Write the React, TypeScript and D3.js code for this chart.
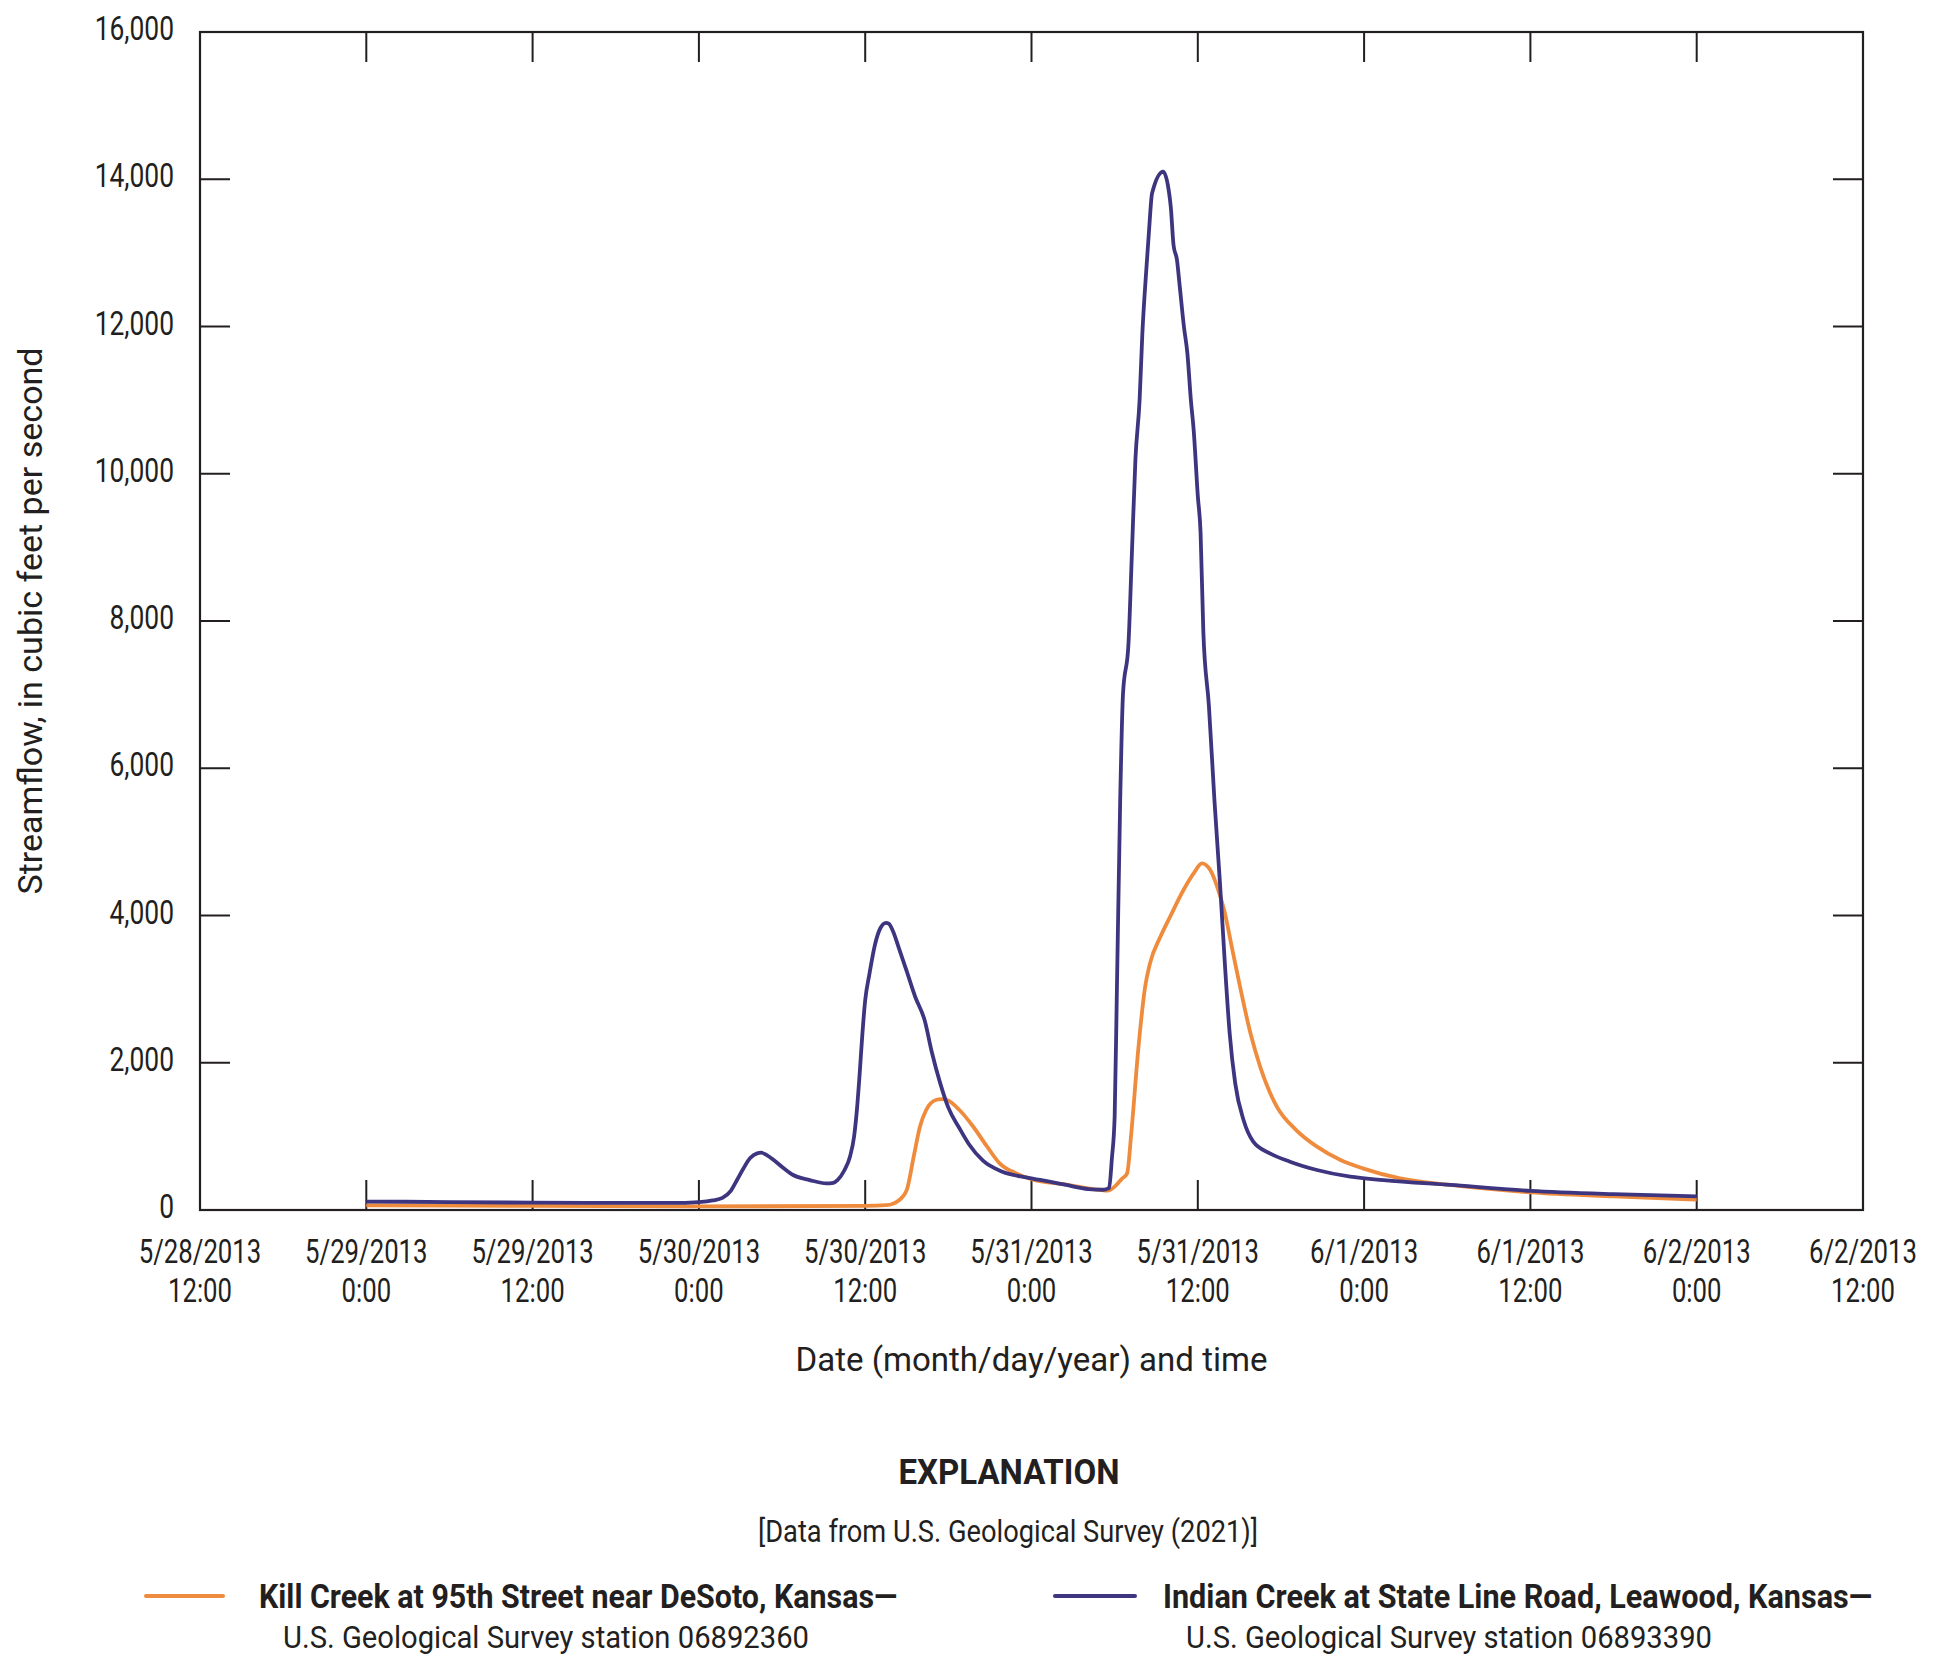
import React, { useLayoutEffect, useRef, useState } from "react";
import * as d3 from "d3";

const parseTime = d3.timeParse("%m/%d/%Y %H:%M");

// Indian Creek at State Line Road, Leawood, Kansas (06893390)
const indianTimes = [
  "5/29/2013 0:00", "5/29/2013 6:00", "5/29/2013 12:00", "5/29/2013 18:00", "5/29/2013 22:00",
  "5/30/2013 0:00", "5/30/2013 1:00", "5/30/2013 1:42", "5/30/2013 2:18", "5/30/2013 2:45",
  "5/30/2013 3:12", "5/30/2013 3:42", "5/30/2013 4:12", "5/30/2013 4:30", "5/30/2013 4:54",
  "5/30/2013 5:24", "5/30/2013 6:06", "5/30/2013 6:48", "5/30/2013 8:00", "5/30/2013 9:12",
  "5/30/2013 9:42", "5/30/2013 10:00", "5/30/2013 10:30", "5/30/2013 10:54", "5/30/2013 11:12",
  "5/30/2013 11:24", "5/30/2013 11:36", "5/30/2013 11:48", "5/30/2013 12:00", "5/30/2013 12:18",
  "5/30/2013 12:42", "5/30/2013 13:06", "5/30/2013 13:30", "5/30/2013 13:42", "5/30/2013 14:00",
  "5/30/2013 14:24", "5/30/2013 15:00", "5/30/2013 15:36", "5/30/2013 16:18", "5/30/2013 16:48",
  "5/30/2013 17:24", "5/30/2013 18:00", "5/30/2013 18:48", "5/30/2013 19:30", "5/30/2013 20:30",
  "5/30/2013 21:54", "5/30/2013 23:42", "5/31/2013 1:18", "5/31/2013 2:30", "5/31/2013 4:06",
  "5/31/2013 5:12", "5/31/2013 5:36", "5/31/2013 5:48", "5/31/2013 6:00", "5/31/2013 6:09",
  "5/31/2013 6:24", "5/31/2013 6:36", "5/31/2013 7:00", "5/31/2013 7:15", "5/31/2013 7:30",
  "5/31/2013 7:48", "5/31/2013 8:00", "5/31/2013 8:18", "5/31/2013 8:30", "5/31/2013 8:42",
  "5/31/2013 9:30", "5/31/2013 9:54", "5/31/2013 10:03", "5/31/2013 10:15", "5/31/2013 10:30",
  "5/31/2013 10:42", "5/31/2013 11:00", "5/31/2013 11:15", "5/31/2013 11:30", "5/31/2013 11:42",
  "5/31/2013 12:00", "5/31/2013 12:12", "5/31/2013 12:24", "5/31/2013 12:48", "5/31/2013 13:12",
  "5/31/2013 13:36", "5/31/2013 13:58", "5/31/2013 14:18", "5/31/2013 14:42", "5/31/2013 15:18",
  "5/31/2013 16:00", "5/31/2013 17:12", "5/31/2013 18:39", "5/31/2013 20:36", "5/31/2013 23:00",
  "6/1/2013 1:24", "6/1/2013 6:12", "6/1/2013 12:00", "6/1/2013 18:00", "6/2/2013 0:00",
];
const indianFlow = [
  115, 108, 100, 96, 96,
  108, 130, 165, 260, 407,
  560, 706, 770, 778, 745,
  679, 570, 475, 407, 362,
  370, 407, 540, 724, 1000,
  1358, 1850, 2400, 2850, 3200,
  3600, 3830, 3900, 3890, 3790,
  3575, 3240, 2900, 2570, 2150,
  1730, 1390, 1110, 890, 670,
  520, 440, 385, 340, 285,
  275, 300, 700, 1267, 2852,
  5568, 7000, 7700, 8950, 10200,
  11000, 11908, 12813, 13356, 13809,
  14102, 13852, 13625, 13105, 12901,
  12539, 11995, 11633, 11000, 10600,
  9700, 9200, 7850, 6850, 5568,
  4440, 3304, 2400, 1720, 1222,
  928, 770, 656, 543, 452,
  407, 340, 260, 215, 185,
];

// Kill Creek at 95th Street near DeSoto, Kansas (06892360)
const killTimes = [
  "5/29/2013 0:00", "5/29/2013 12:00", "5/30/2013 0:00", "5/30/2013 12:00", "5/30/2013 13:30",
  "5/30/2013 14:00", "5/30/2013 14:18", "5/30/2013 14:42", "5/30/2013 15:00", "5/30/2013 15:30",
  "5/30/2013 15:57", "5/30/2013 16:24", "5/30/2013 17:06", "5/30/2013 17:30", "5/30/2013 17:54",
  "5/30/2013 18:48", "5/30/2013 19:48", "5/30/2013 20:48", "5/30/2013 21:42", "5/30/2013 22:54",
  "5/31/2013 0:00", "5/31/2013 2:30", "5/31/2013 4:54", "5/31/2013 5:30", "5/31/2013 6:00",
  "5/31/2013 6:30", "5/31/2013 6:54", "5/31/2013 7:12", "5/31/2013 7:42", "5/31/2013 8:12",
  "5/31/2013 8:33", "5/31/2013 9:18", "5/31/2013 10:00", "5/31/2013 10:58", "5/31/2013 11:42",
  "5/31/2013 12:18", "5/31/2013 12:54", "5/31/2013 13:24", "5/31/2013 13:54", "5/31/2013 14:30",
  "5/31/2013 15:06", "5/31/2013 15:48", "5/31/2013 16:30", "5/31/2013 17:42", "5/31/2013 19:06",
  "5/31/2013 20:36", "5/31/2013 22:18", "5/31/2013 23:54", "6/1/2013 2:36", "6/1/2013 6:12",
  "6/1/2013 12:00", "6/1/2013 18:00", "6/2/2013 0:00",
];
const killFlow = [
  62, 55, 48, 55, 65,
  85, 113, 180, 272, 724,
  1131, 1358, 1494, 1505, 1494,
  1358, 1131, 860, 634, 498,
  420, 345, 275, 262, 317,
  420, 498, 1041, 2173, 3033,
  3350, 3711, 3983, 4346, 4572,
  4708, 4617, 4390, 4074, 3531,
  2987, 2400, 1946, 1403, 1086,
  860, 679, 566, 430, 340,
  240, 185, 140,
];

const xTickTimes = [
  "5/28/2013 12:00", "5/29/2013 0:00", "5/29/2013 12:00", "5/30/2013 0:00", "5/30/2013 12:00",
  "5/31/2013 0:00", "5/31/2013 12:00", "6/1/2013 0:00", "6/1/2013 12:00", "6/2/2013 0:00",
  "6/2/2013 12:00",
];
const yTicks = [0, 2000, 4000, 6000, 8000, 10000, 12000, 14000, 16000];

const xTitle = "Date (month/day/year) and time";
const yTitle = "Streamflow, in cubic feet per second";
const explTitle = "EXPLANATION";
const explSource = "[Data from U.S. Geological Survey (2021)]";
const killLabel = "Kill Creek at 95th Street near DeSoto, Kansas\u2014";
const killStation = "U.S. Geological Survey station 06892360";
const indianLabel = "Indian Creek at State Line Road, Leawood, Kansas\u2014";
const indianStation = "U.S. Geological Survey station 06893390";

const ORANGE = "#EF8B3C";
const NAVY = "#3D3580";
const INK = "#231F20";
const FONT = "Roboto, 'Liberation Sans', sans-serif";

// Text drawn horizontally compressed by a fixed factor (condensed look).
function CText(props: { x: number; y: number; sx?: number; children: React.ReactNode; [k: string]: any }) {
  const { x, y, sx = 0.8, children, ...rest } = props;
  return (
    <text transform={`translate(${x},${y}) scale(${sx},1)`} {...rest}>
      {children}
    </text>
  );
}

// Text compressed so its drawn width equals `width` (measured after render).
function FitText(props: { x: number; y: number; width: number; rotate?: number; children: string; [k: string]: any }) {
  const { x, y, width, rotate = 0, children, ...rest } = props;
  const ref = useRef<SVGTextElement>(null);
  const [sx, setSx] = useState(0.8);
  useLayoutEffect(() => {
    if (ref.current) {
      const natural = ref.current.getComputedTextLength();
      if (natural > 0) setSx(width / natural);
    }
  }, [width, children]);
  return (
    <text ref={ref} transform={`translate(${x},${y}) rotate(${rotate}) scale(${sx},1)`} {...rest}>
      {children}
    </text>
  );
}

export default function App() {
  const W = 1940, H = 1664;
  const left = 200, right = 1863, top = 32, bottom = 1210;
  const x = d3.scaleTime()
    .domain([parseTime(xTickTimes[0])!, parseTime(xTickTimes[xTickTimes.length - 1])!])
    .range([left, right]);
  const y = d3.scaleLinear().domain([0, 16000]).range([bottom, top]);
  const fmt = d3.format(",");
  const line = d3.line<[Date, number]>()
    .x((d) => x(d[0]))
    .y((d) => y(d[1]))
    .curve(d3.curveMonotoneX);
  const kill: [Date, number][] = killTimes.map((t, i) => [parseTime(t)!, killFlow[i]]);
  const indian: [Date, number][] = indianTimes.map((t, i) => [parseTime(t)!, indianFlow[i]]);
  const tickLen = 30;
  const fDate = d3.timeFormat("%-m/%-d/%Y");
  const fTime = d3.timeFormat("%-H:%M");

  return (
    <svg width={W} height={H} style={{ position: "absolute", left: 0, top: 0, background: "#fff" }}
      fontFamily={FONT} fill={INK}>
      <rect x={0} y={0} width={W} height={H} fill="#fff" />
      {/* ticks */}
      {xTickTimes.slice(1, -1).map((t) => {
        const xx = x(parseTime(t)!);
        return (
          <g key={t} stroke={INK} strokeWidth={2}>
            <line x1={xx} x2={xx} y1={bottom} y2={bottom - tickLen} />
            <line x1={xx} x2={xx} y1={top} y2={top + tickLen} />
          </g>
        );
      })}
      {yTicks.slice(1, -1).map((v) => (
        <g key={v} stroke={INK} strokeWidth={2}>
          <line x1={left} x2={left + tickLen} y1={y(v)} y2={y(v)} />
          <line x1={right} x2={right - tickLen} y1={y(v)} y2={y(v)} />
        </g>
      ))}
      {/* data */}
      <path d={line(kill)!} fill="none" stroke={ORANGE} strokeWidth={3.8} strokeLinejoin="round" />
      <path d={line(indian)!} fill="none" stroke={NAVY} strokeWidth={3.8} strokeLinejoin="round" />
      <rect x={left} y={top} width={right - left} height={bottom - top} fill="none" stroke={INK} strokeWidth={2.2} />
      {/* tick labels */}
      {yTicks.map((v) => (
        <CText key={v} x={174} y={y(v) + 8} textAnchor="end" fontSize={33} sx={0.8}>{fmt(v)}</CText>
      ))}
      {xTickTimes.map((t) => {
        const d = parseTime(t)!;
        const xx = x(d);
        return (
          <g key={t}>
            <CText x={xx} y={1263} textAnchor="middle" fontSize={33} sx={0.78}>{fDate(d)}</CText>
            <CText x={xx} y={1302} textAnchor="middle" fontSize={33} sx={0.78}>{fTime(d)}</CText>
          </g>
        );
      })}
      {/* axis titles */}
      <FitText x={(left + right) / 2} y={1371} width={472} textAnchor="middle" fontSize={33}>{xTitle}</FitText>
      <FitText x={42} y={(top + bottom) / 2} rotate={-90} width={547} textAnchor="middle" fontSize={33}>{yTitle}</FitText>
      {/* explanation */}
      <FitText x={1009} y={1484} width={221} textAnchor="middle" fontSize={36} fontWeight="bold">{explTitle}</FitText>
      <FitText x={1008} y={1542} width={500} textAnchor="middle" fontSize={32}>{explSource}</FitText>
      <line x1={146} x2={223} y1={1596} y2={1596} stroke={ORANGE} strokeWidth={4} strokeLinecap="round" />
      <FitText x={259} y={1608} width={638} fontSize={34} fontWeight="bold">{killLabel}</FitText>
      <FitText x={283} y={1648} width={526} fontSize={32}>{killStation}</FitText>
      <line x1={1055} x2={1135} y1={1596} y2={1596} stroke={NAVY} strokeWidth={4} strokeLinecap="round" />
      <FitText x={1163} y={1608} width={709} fontSize={34} fontWeight="bold">{indianLabel}</FitText>
      <FitText x={1186} y={1648} width={526} fontSize={32}>{indianStation}</FitText>
    </svg>
  );
}
